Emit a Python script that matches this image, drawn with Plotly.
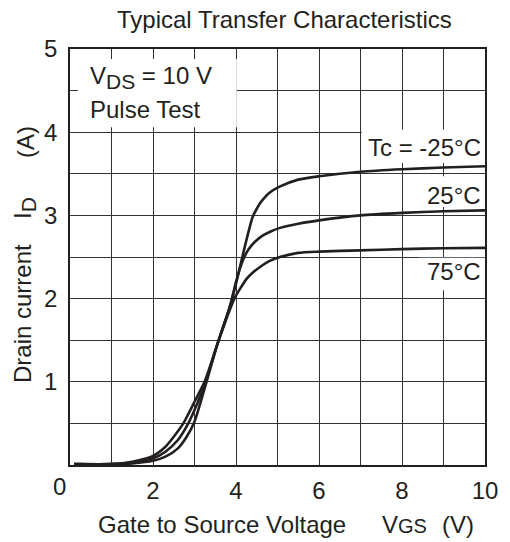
import plotly.graph_objects as go

# ---- data ----
vgs_m25 = [0.1, 1.0, 1.5, 2.0, 2.3, 2.6, 2.8, 3.0, 3.25, 3.55, 3.85, 4.0, 4.2, 4.4, 4.5, 4.6, 4.7, 4.8, 5.05, 5.5, 6.0, 7.0, 8.0, 9.0, 10.0]
id_m25 = [0.01, 0.01, 0.02, 0.05, 0.1, 0.2, 0.33, 0.52, 0.93, 1.45, 1.9, 2.18, 2.6, 2.98, 3.08, 3.16, 3.22, 3.27, 3.345, 3.43, 3.47, 3.525, 3.555, 3.575, 3.59]

vgs_25 = [0.1, 1.0, 1.5, 2.0, 2.3, 2.6, 2.85, 3.0, 3.25, 3.55, 3.85, 4.0, 4.1, 4.2, 4.3, 4.45, 4.65, 4.85, 5.06, 5.5, 6.0, 7.0, 8.0, 9.0, 10.0]
id_25 = [0.01, 0.01, 0.03, 0.08, 0.16, 0.3, 0.5, 0.66, 0.97, 1.45, 1.9, 2.2, 2.37, 2.5, 2.59, 2.68, 2.76, 2.81, 2.85, 2.9, 2.94, 3.0, 3.03, 3.05, 3.06]

vgs_75 = [0.1, 1.0, 1.5, 2.0, 2.3, 2.5, 2.73, 3.0, 3.25, 3.55, 3.8, 3.98, 4.1, 4.26, 4.4, 4.58, 4.8, 5.06, 5.5, 6.0, 7.0, 8.0, 9.0, 10.0]
id_75 = [0.01, 0.01, 0.04, 0.11, 0.22, 0.34, 0.5, 0.76, 1.01, 1.45, 1.8, 2.02, 2.12, 2.24, 2.31, 2.38, 2.45, 2.5, 2.55, 2.565, 2.58, 2.595, 2.605, 2.61]

x_ticks = [2, 4, 6, 8, 10]
y_ticks = [1, 2, 3, 4, 5]
curve_labels = ["Tc = -25°C", "25°C", "75°C"]
label_y = [3.82, 3.245, 2.32]

FONT = "Liberation Sans, Arial, Helvetica, sans-serif"
INK = "#231f20"
FS = 24

fig = go.Figure()
for xs, ys in [(vgs_m25, id_m25), (vgs_25, id_25), (vgs_75, id_75)]:
    fig.add_trace(go.Scatter(x=xs, y=ys, mode="lines",
                             line=dict(color=INK, width=2.6, shape="spline", smoothing=0.6),
                             showlegend=False, hoverinfo="skip"))

shapes = [
    dict(type="rect", xref="x", yref="y", x0=0.19, x1=4.02, y0=4.06, y1=4.88,
         fillcolor="white", line=dict(width=0), layer="between"),
    dict(type="rect", xref="x", yref="y", x0=7.03, x1=10, y0=3.63, y1=4.03,
         fillcolor="white", line=dict(width=0), layer="between"),
    dict(type="rect", xref="x", yref="y", x0=8.4, x1=10, y0=3.10, y1=3.47,
         fillcolor="white", line=dict(width=0), layer="between"),
    dict(type="rect", xref="x", yref="y", x0=8.4, x1=10, y0=2.10, y1=2.49,
         fillcolor="white", line=dict(width=0), layer="between"),
]

ann = []
for t, yv in zip(curve_labels, label_y):
    ann.append(dict(x=9.95, y=yv, xref="x", yref="y", text=t, showarrow=False,
                    xanchor="right", yanchor="middle", font=dict(size=FS, color=INK, family=FONT)))
ann.append(dict(x=0.43, y=4.66, xref="x", yref="y",
                text="V<sub><span style='font-size:21px'>DS</span></sub> = 10 V",
                showarrow=False, xanchor="left", yanchor="middle",
                font=dict(size=FS, color=INK, family=FONT)))
ann.append(dict(x=0.43, y=4.27, xref="x", yref="y", text="Pulse Test",
                showarrow=False, xanchor="left", yanchor="middle",
                font=dict(size=FS, color=INK, family=FONT)))
ann.append(dict(x=(59 - 70) / 415, y=(465 - 486) / 416, xref="paper", yref="paper", text="0",
                showarrow=False, xanchor="center", yanchor="middle",
                font=dict(size=FS, color=INK, family=FONT)))
ann.append(dict(x=(96 - 70) / 415, y=(465 - 524) / 416, xref="paper", yref="paper",
                text="Gate to Source Voltage", showarrow=False, xanchor="left", yanchor="middle",
                font=dict(size=FS, color=INK, family=FONT)))
ann.append(dict(x=(380 - 70) / 415, y=(465 - 524) / 416, xref="paper", yref="paper",
                text="V<span style='font-size:20px'>GS</span>", showarrow=False,
                xanchor="left", yanchor="middle", font=dict(size=FS, color=INK, family=FONT)))
ann.append(dict(x=(440 - 70) / 415, y=(465 - 524) / 416, xref="paper", yref="paper",
                text="(V)", showarrow=False, xanchor="left", yanchor="middle",
                font=dict(size=FS, color=INK, family=FONT)))
ann.append(dict(x=(22 - 70) / 415, y=(465 - 314) / 416, xref="paper", yref="paper",
                text="Drain current", textangle=-90, showarrow=False,
                xanchor="center", yanchor="middle", font=dict(size=FS, color=INK, family=FONT)))
ann.append(dict(x=(24 - 70) / 415, y=(465 - 208) / 416, xref="paper", yref="paper",
                text="I<sub><span style='font-size:21px'>D</span></sub>", textangle=-90, showarrow=False,
                xanchor="center", yanchor="middle", font=dict(size=FS, color=INK, family=FONT)))
ann.append(dict(x=(25 - 70) / 415, y=(465 - 142) / 416, xref="paper", yref="paper",
                text="(A)", textangle=-90, showarrow=False,
                xanchor="center", yanchor="middle", font=dict(size=FS, color=INK, family=FONT)))
ann.append(dict(x=(284 - 70) / 415, y=(465 - 19) / 416, xref="paper", yref="paper",
                text="Typical Transfer Characteristics", showarrow=False,
                xanchor="center", yanchor="middle", font=dict(size=FS, color=INK, family=FONT)))

fig.update_layout(
    width=510, height=542,
    margin=dict(l=70, r=25, t=49, b=77),
    paper_bgcolor="white", plot_bgcolor="white",
    shapes=shapes, annotations=ann,
    font=dict(family=FONT, size=FS, color=INK),
)
fig.update_xaxes(range=[0, 10], tickmode="array", tickvals=x_ticks,
                 showgrid=False, zeroline=False,
                 showline=True, linecolor=INK, linewidth=1.6, mirror=True,
                 ticks="outside", ticklen=3, tickcolor="rgba(0,0,0,0)",
                 tickfont=dict(size=FS, color=INK, family=FONT))
fig.update_yaxes(range=[0, 5], tickmode="array", tickvals=y_ticks,
                 showgrid=False, zeroline=False,
                 showline=True, linecolor=INK, linewidth=1.6, mirror=True,
                 ticks="outside", ticklen=6, tickcolor="rgba(0,0,0,0)",
                 tickfont=dict(size=FS, color=INK, family=FONT))

fig.update_xaxes(minor=dict(dtick=1, tick0=0, showgrid=True, gridcolor="#333333", gridwidth=1.2))
fig.update_yaxes(minor=dict(dtick=0.5, tick0=0, showgrid=True, gridcolor="#333333", gridwidth=1.2))

fig.write_html("out.html", config={"displayModeBar": False},
               post_script="document.body.style.margin='0px';")
